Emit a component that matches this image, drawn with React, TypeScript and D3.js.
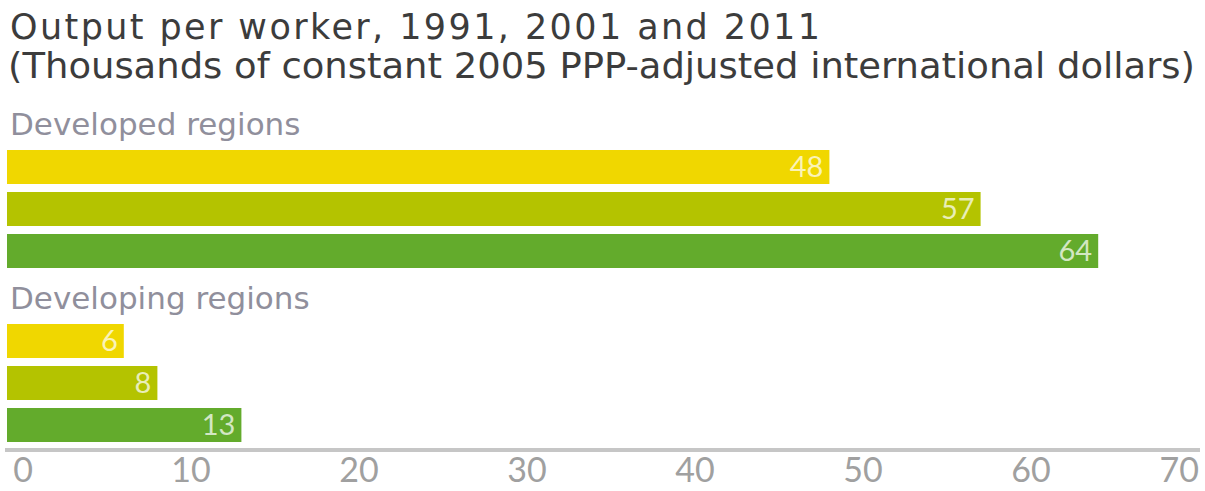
import React from "react";
import * as d3 from "d3";

const titleLines = [
  "Output per worker, 1991, 2001 and 2011",
  "(Thousands of constant 2005 PPP-adjusted international dollars)",
];
const groups = ["Developed regions", "Developing regions"];
const years = ["1991", "2001", "2011"];
const developed = [48, 57, 64];
const developing = [6, 8, 13];
const tickValues = [0, 10, 20, 30, 40, 50, 60, 70];
const yearColors = ["#f0d700", "#b4c300", "#63ab2c"];

const W = 1205;
const H = 491;
const TITLE_FONT = "'DejaVu Sans', 'Noto Sans', sans-serif";
const FONT = "Lato, 'Open Sans', sans-serif";

export default function App() {
  const x = d3.scaleLinear().domain([0, 70]).range([23, 1199]);
  const barLeft = 7;
  const groupTops = [146, 320];
  const band = d3
    .scaleBand<string>()
    .domain(years)
    .range([0, 126])
    .paddingInner(8 / 42)
    .paddingOuter(4 / 42);
  const seriesByGroup = [developed, developing];
  const axisY = 450;

  return (
    <svg
      width={W}
      height={H}
      style={{ position: "fixed", left: 0, top: 0, background: "#fff" }}
      fontFamily={FONT}
    >
      <text x={10} y={39} fontSize={35} fontFamily={TITLE_FONT} fill="#3c3c3c" textLength={810} lengthAdjust="spacing">
        {titleLines[0]}
      </text>
      <text x={8} y={78} fontSize={35} fontFamily={TITLE_FONT} fill="#3c3c3c" textLength={1187} lengthAdjust="spacingAndGlyphs">
        {titleLines[1]}
      </text>

      {groups.map((g, gi) => {
        const top = groupTops[gi];
        const vals = seriesByGroup[gi];
        return (
          <g key={g} transform={`translate(0,${top})`}>
            <text x={10} y={-11} fontSize={31} fontFamily={TITLE_FONT} fill="#908f9c">
              {g}
            </text>
            {vals.map((v, i) => {
              const y0 = band(years[i])!;
              return (
                <g key={years[i]}>
                  <rect
                    x={barLeft}
                    y={y0}
                    width={x(v) - barLeft}
                    height={band.bandwidth()}
                    fill={yearColors[i]}
                  />
                  <text
                    x={x(v) - 6}
                    y={y0 + band.bandwidth() / 2}
                    dy="0.36em"
                    textAnchor="end"
                    fontSize={29}
                    fill="#ffffff"
                    fillOpacity={0.72}
                  >
                    {v}
                  </text>
                </g>
              );
            })}
          </g>
        );
      })}

      <line x1={5} x2={1200} y1={axisY} y2={axisY} stroke="#c6c6c6" strokeWidth={4} />
      {tickValues.map((t, i) => (
        <text
          key={t}
          x={x(t)}
          y={482}
          fontSize={34}
          fill="#a0a0a0"
          textAnchor={i === tickValues.length - 1 ? "end" : "middle"}
        >
          {t}
        </text>
      ))}
    </svg>
  );
}
